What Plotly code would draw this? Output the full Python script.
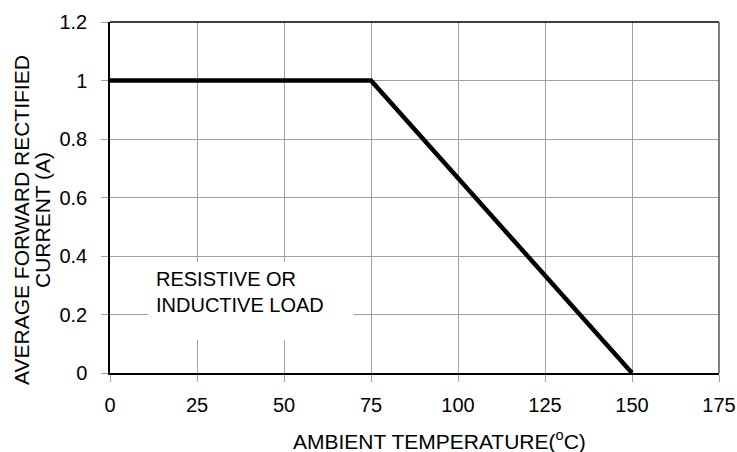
import plotly.graph_objects as go

temp = [0, 75, 150]
current = [1, 1, 0]
x_ticks = [0, 25, 50, 75, 100, 125, 150, 175]
y_ticks = [0, 0.2, 0.4, 0.6, 0.8, 1, 1.2]
y_tick_labels = ["0", "0.2", "0.4", "0.6", "0.8", "1", "1.2"]
note_lines = ["RESISTIVE OR", "INDUCTIVE LOAD"]
y_title_lines = ["AVERAGE FORWARD RECTIFIED", "CURRENT (A)"]
x_title = "AMBIENT TEMPERATURE(<sup>o</sup>C)"

FONT = "Liberation Sans, Arial, sans-serif"
GRID = "#a0a0a0"
FS = 20
TFS = 21

L, R, T, B, W, H = 110, 18, 22, 79, 737, 452
PW, PH = W - L - R, H - T - B


def px_x(p):
    return (p - L) / PW


def px_y(p):
    return (H - B - p) / PH


fig = go.Figure()
fig.add_trace(go.Scatter(x=temp, y=current, mode="lines",
                         line=dict(color="black", width=4.5), showlegend=False,
                         hoverinfo="skip"))

fig.update_layout(
    width=W, height=H,
    margin=dict(l=L, r=R, t=T, b=B, autoexpand=False),
    paper_bgcolor="white", plot_bgcolor="white",
    font=dict(family=FONT, size=FS, color="black"),
    xaxis=dict(range=[0, 175], tickvals=x_ticks, ticktext=[str(v) for v in x_ticks],
               showgrid=True, gridcolor=GRID, gridwidth=1,
               ticks="outside", ticklen=7, tickcolor=GRID, tickwidth=1,
               showline=True, linecolor="black", linewidth=1.5, mirror=False,
               zeroline=False, ticklabelstandoff=6, automargin=False),
    yaxis=dict(range=[0, 1.2], tickvals=y_ticks, ticktext=y_tick_labels,
               showgrid=True, gridcolor=GRID, gridwidth=1,
               ticks="outside", ticklen=7, tickcolor=GRID, tickwidth=1,
               showline=True, linecolor="black", linewidth=1.5,
               zeroline=False, ticklabelstandoff=10, automargin=False),
)

# x axis title
fig.add_annotation(xref="paper", yref="paper", x=px_x(439), y=px_y(440),
                   xanchor="center", yanchor="middle", text=x_title, showarrow=False,
                   font=dict(family=FONT, size=TFS, color="black"))

# y axis title, two lines
for line_text, cx in zip(y_title_lines, [21, 42]):
    fig.add_annotation(xref="paper", yref="paper", x=px_x(cx), y=px_y(220),
                       xanchor="center", yanchor="middle", textangle=-90,
                       text=line_text, showarrow=False,
                       font=dict(family=FONT, size=TFS, color="black"))

# top and right borders
fig.add_shape(type="line", xref="paper", yref="paper", x0=0, x1=1, y0=1, y1=1,
              line=dict(color="black", width=1.5), layer="above")
fig.add_shape(type="line", xref="paper", yref="paper", x0=1, x1=1, y0=0, y1=1,
              line=dict(color="#555555", width=1.5), layer="above")

# white box behind note
fig.add_shape(type="rect", xref="x", yref="y", x0=11, x1=70, y0=0.113, y1=0.38,
              fillcolor="white", line=dict(width=0), layer="above")
fig.add_annotation(x=12.6, y=0.277, xref="x", yref="y", xanchor="left", yanchor="middle",
                   text="<br>".join(note_lines), showarrow=False, align="left",
                   font=dict(family=FONT, size=FS, color="black"))

fig.write_html("out.html", config={"displayModeBar": False},
               post_script="document.body.style.margin='0px';")
